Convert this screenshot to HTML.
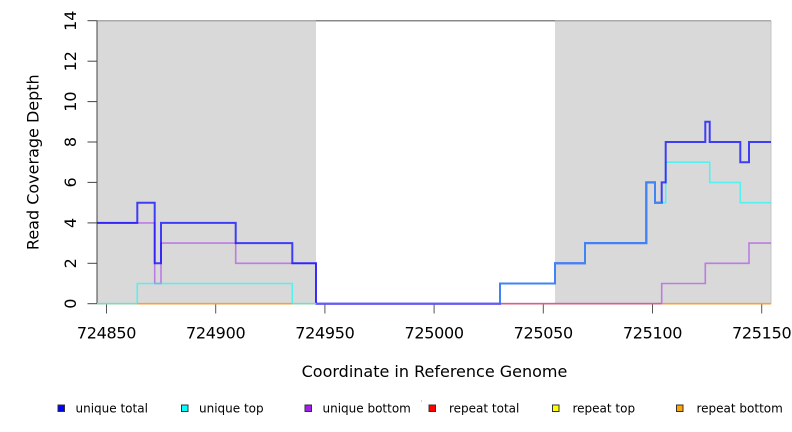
<!DOCTYPE html>
<html>
<head>
<meta charset="utf-8">
<style>
html,body{margin:0;padding:0;background:#fff;}
svg{display:block;}
text{font-family:"DejaVu Sans","Liberation Sans",sans-serif;fill:#000;}
</style>
</head>
<body>
<svg width="792" height="432" viewBox="0 0 792 432" xmlns="http://www.w3.org/2000/svg">
  <!-- shaded regions -->
  <rect x="97" y="20.7" width="219" height="283" fill="#d9d9d9"/>
  <rect x="555" y="20.7" width="216" height="283" fill="#d9d9d9"/>
  <line x1="771" y1="20.7" x2="771" y2="303.7" stroke="#c4c4c4" stroke-width="1"/>
  <!-- top border -->
  <line x1="97" y1="20.7" x2="316" y2="20.7" stroke="#aaaaaa" stroke-width="1.5"/>
  <line x1="316" y1="20.7" x2="555" y2="20.7" stroke="#888888" stroke-width="1.5"/>
  <line x1="555" y1="20.7" x2="771" y2="20.7" stroke="#aaaaaa" stroke-width="1.5"/>

  <!-- left axis -->
  <line x1="97" y1="20.7" x2="97" y2="303.7" stroke="#444" stroke-width="1"/>
  <g stroke="#444" stroke-width="1">
    <line x1="87.5" y1="303.7" x2="97" y2="303.7"/>
    <line x1="87.5" y1="263.3" x2="97" y2="263.3"/>
    <line x1="87.5" y1="222.9" x2="97" y2="222.9"/>
    <line x1="87.5" y1="182.4" x2="97" y2="182.4"/>
    <line x1="87.5" y1="142" x2="97" y2="142"/>
    <line x1="87.5" y1="101.6" x2="97" y2="101.6"/>
    <line x1="87.5" y1="61.2" x2="97" y2="61.2"/>
    <line x1="87.5" y1="20.7" x2="97" y2="20.7"/>
  </g>
  <g font-size="16" text-anchor="middle">
    <text transform="translate(76,303.7) rotate(-90)">0</text>
    <text transform="translate(76,263.3) rotate(-90)">2</text>
    <text transform="translate(76,222.9) rotate(-90)">4</text>
    <text transform="translate(76,182.4) rotate(-90)">6</text>
    <text transform="translate(76,142) rotate(-90)">8</text>
    <text transform="translate(76,101.6) rotate(-90)">10</text>
    <text transform="translate(76,61.2) rotate(-90)">12</text>
    <text transform="translate(76,20.7) rotate(-90)">14</text>
  </g>
  <text font-size="16" text-anchor="middle" transform="translate(38.5,162.2) rotate(-90)">Read Coverage Depth</text>

  <!-- x ticks -->
  <g stroke="#555" stroke-width="1">
    <line x1="106.5" y1="303.7" x2="106.5" y2="313.5"/>
    <line x1="215.7" y1="303.7" x2="215.7" y2="313.5"/>
    <line x1="324.9" y1="303.7" x2="324.9" y2="313.5"/>
    <line x1="434.1" y1="303.7" x2="434.1" y2="313.5"/>
    <line x1="543.3" y1="303.7" x2="543.3" y2="313.5"/>
    <line x1="652.5" y1="303.7" x2="652.5" y2="313.5"/>
    <line x1="761.7" y1="303.7" x2="761.7" y2="313.5"/>
  </g>
  <g font-size="16" text-anchor="middle" letter-spacing="-0.3">
    <text x="106.5" y="338.3">724850</text>
    <text x="215.7" y="338.3">724900</text>
    <text x="324.9" y="338.3">724950</text>
    <text x="434.1" y="338.3">725000</text>
    <text x="543.3" y="338.3">725050</text>
    <text x="652.5" y="338.3">725100</text>
    <text x="761.7" y="338.3">725150</text>
  </g>
  <text x="434.5" y="377" font-size="16" text-anchor="middle">Coordinate in Reference Genome</text>

  <!-- series -->
  <g fill="none" stroke-linejoin="miter">
    <!-- unique bottom -->
    <path d="M97,222.9 H154.7 V283.5 H161 V243.1 H235.7 V263.3 H316 V303.7 H661.7 V283.5 H705.3 V263.3 H749 V243.1 H771" stroke="#a020f0" stroke-opacity="0.5" stroke-width="1.6"/>
    <!-- unique top -->
    <path d="M97,303.7 H137.3 V283.5 H292.3 V303.7 H500 V283.5 H555 V263.3 H585 V243.1 H646.3 V182.4 H655 V202.7 H665.7 V162.2 H709.7 V182.4 H740.3 V202.7 H771" stroke="#00ffff" stroke-opacity="0.6" stroke-width="1.6"/>
    <!-- unique total -->
    <path d="M97,222.9 H137.3 V202.7 H154.7 V263.3 H161 V222.9 H235.7 V243.1 H292.3 V263.3 H316 V303.7 H500 V283.5 H555 V263.3 H585 V243.1 H646.3 V182.4 H655 V202.7 H661.7 V182.4 H665.7 V142 H705.3 V121.8 H709.7 V142 H740.3 V162.2 H749 V142 H771" stroke="#0000ff" stroke-opacity="0.72" stroke-width="2"/>
    <!-- overlap of total & top (blended colour) -->
    <path d="M500,303.7 V283.5 H555 V263.3 H585 V243.1 H646.3 V182.4 H655 V202.7 H661.7" stroke="#3f84f2" stroke-width="2"/>
    <!-- zero line blended segments -->
    <path d="M97,303.7 H137.3" stroke="#8fd4b0" stroke-width="1.6"/>
    <path d="M137.3,303.7 H292.3" stroke="#f3a040" stroke-width="1.6"/>
    <path d="M292.3,303.7 H316" stroke="#8fd4b0" stroke-width="1.6"/>
    <path d="M316,303.7 H500" stroke="#6a5af0" stroke-width="2"/>
    <path d="M501,303.7 H661.7" stroke="#d86080" stroke-width="1.6"/>
    <path d="M662.5,303.7 H771" stroke="#f3a040" stroke-width="1.6"/>
  </g>

  <!-- legend -->
  <g stroke="#333" stroke-width="1">
    <rect x="58" y="405" width="6.5" height="6.5" fill="#0000ff"/>
    <rect x="181.5" y="405" width="6.5" height="6.5" fill="#00ffff"/>
    <rect x="305" y="405" width="6.5" height="6.5" fill="#a020f0"/>
    <rect x="429" y="405" width="6.5" height="6.5" fill="#ff0000"/>
    <rect x="552.5" y="405" width="6.5" height="6.5" fill="#ffff00"/>
    <rect x="676.5" y="405" width="6.5" height="6.5" fill="#ffa500"/>
  </g>
  <rect x="421" y="400" width="1" height="2" fill="#cccccc"/>
  <g font-size="12">
    <text x="75.5" y="412.5">unique total</text>
    <text x="199" y="412.5">unique top</text>
    <text x="322.5" y="412.5">unique bottom</text>
    <text x="449" y="412.5">repeat total</text>
    <text x="572.5" y="412.5">repeat top</text>
    <text x="696.5" y="412.5">repeat bottom</text>
  </g>
</svg>
</body>
</html>
